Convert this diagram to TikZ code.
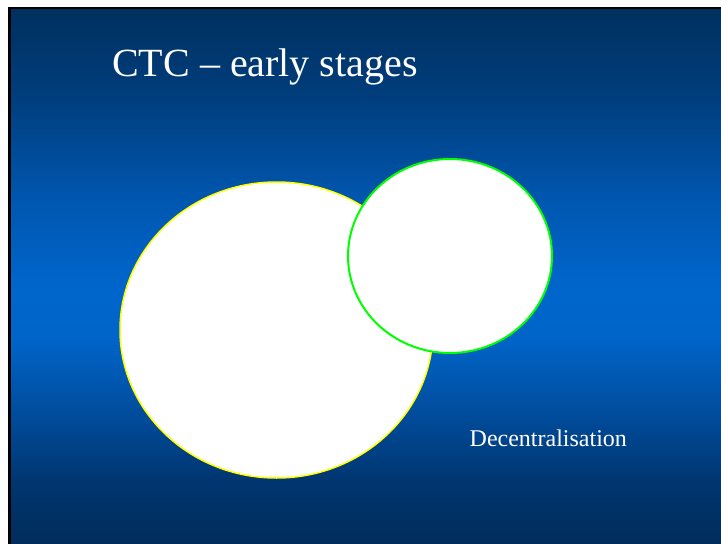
\documentclass[tikz,border=0pt]{standalone}
\usepackage{fontspec}
\setmainfont{Liberation Serif}
\definecolor{bgA}{HTML}{00305F}
\definecolor{bgB}{HTML}{003E7E}
\definecolor{bgC}{HTML}{0057B0}
\definecolor{bgD}{HTML}{0066CC}
\definecolor{bgE}{HTML}{0064C8}
\definecolor{bgF}{HTML}{004A98}
\definecolor{bgG}{HTML}{003670}
\definecolor{bgH}{HTML}{002C5C}
\definecolor{ringyellow}{HTML}{FFFF00}
\definecolor{ringgreen}{HTML}{00FF00}
\tikzset{
  bubble/.style={fill=white},
  slidetext/.style={text=white, inner sep=0pt, anchor=base west},
  band/.style args={#1/#2}{top color=#1, bottom color=#2}
}
\begin{document}
\begin{tikzpicture}[x=1pt, y=-1pt]
  \useasboundingbox (0,0) rectangle (721,544);
  % slide background: vertical bands blending dark navy into bright blue and back
  \shade[band=bgA/bgB] (9,8) rectangle (721,100.5);
  \shade[band=bgB/bgC] (9,100) rectangle (721,200.5);
  \shade[band=bgC/bgD] (9,200) rectangle (721,290.5);
  \shade[band=bgD/bgE] (9,290) rectangle (721,340.5);
  \shade[band=bgE/bgF] (9,340) rectangle (721,420.5);
  \shade[band=bgF/bgG] (9,420) rectangle (721,480.5);
  \shade[band=bgG/bgH] (9,480) rectangle (721,544);
  % frame along the left and top edges
  \draw[line width=2.5pt] (9.7,544) -- (9.7,8) -- (721,8);
  % title
  \node[slidetext, font=\fontsize{40}{44}\selectfont] (title) at (112,76.7) {CTC – early stages};
  % the two overlapping bubbles
  \draw[bubble, draw=ringyellow, line width=1.5pt] (276.5,330) ellipse [x radius=156.5, y radius=148];
  \draw[bubble, draw=ringgreen, line width=2pt] (450,256) ellipse [x radius=102, y radius=97];
  % label
  \node[slidetext, font=\fontsize{24}{28}\selectfont] (decentral) at (469.5,446.7) {Decentralisation};
\end{tikzpicture}
\end{document}
